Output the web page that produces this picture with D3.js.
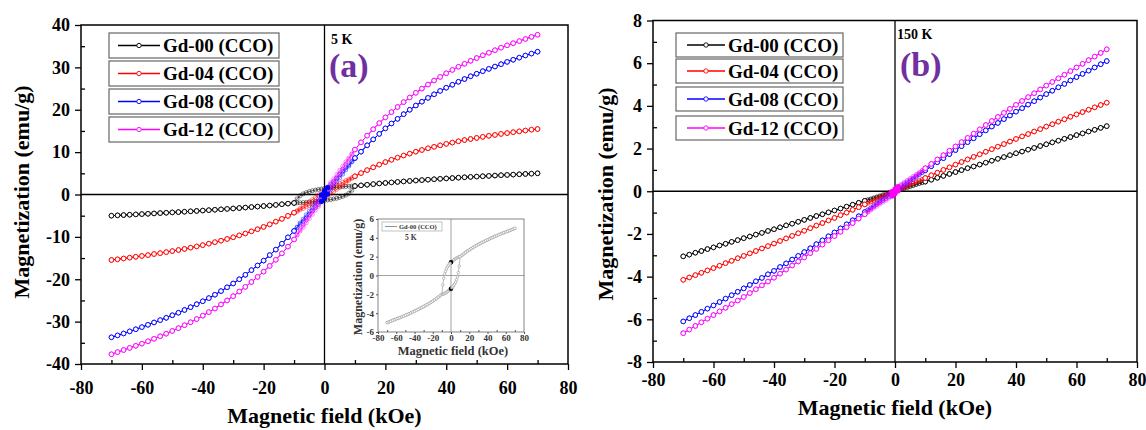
<!DOCTYPE html>
<html>
<head>
<meta charset="utf-8">
<script src="https://cdn.jsdelivr.net/npm/d3@7"></script>
<style>
  body { margin: 0; background: #fff; }
  svg text { font-family: "Liberation Serif", Tinos, "Times New Roman", "DejaVu Serif", serif; font-weight: bold; }
</style>
</head>
<body>
<svg id="chart" width="1146" height="430"></svg>
<script>
// field steps (kOe): outer part is shared by both sweep branches, inner part is the descending branch
var fieldOuter = [10, 12, 14, 16, 18, 20, 22, 24, 26, 28, 30, 32, 34, 36, 38, 40, 42, 44, 46, 48, 50, 52, 54, 56, 58, 60, 62, 64, 66, 68, 70];
var fieldInner = [9, 8, 7, 6, 5, 4, 3, 2, 1, 0, -1, -2, -3, -4, -5, -6, -7, -8, -9];

var seriesNames = ["Gd-00 (CCO)", "Gd-04 (CCO)", "Gd-08 (CCO)", "Gd-12 (CCO)"];
var seriesColors = ["#000000", "#ff0000", "#0000ff", "#ff00ff"];

// 5 K  (emu/g)
var m5kOuter00 = [2.0, 2.15, 2.3, 2.45, 2.6, 2.72, 2.85, 2.97, 3.08, 3.19, 3.3, 3.4, 3.5, 3.6, 3.7, 3.79, 3.88, 3.97, 4.06, 4.15, 4.23, 4.31, 4.39, 4.47, 4.55, 4.62, 4.7, 4.77, 4.85, 4.92, 5.0];
var m5kOuter04 = [4.3, 5.05, 5.75, 6.4, 7.05, 7.65, 8.2, 8.7, 9.2, 9.65, 10.1, 10.5, 10.9, 11.25, 11.6, 11.95, 12.25, 12.55, 12.85, 13.1, 13.35, 13.6, 13.85, 14.05, 14.3, 14.5, 14.7, 14.9, 15.1, 15.3, 15.45];
var m5kOuter08 = [8.6, 10.1, 11.6, 13.0, 14.3, 15.6, 16.75, 17.85, 18.95, 20.0, 21.0, 21.9, 22.8, 23.65, 24.45, 25.2, 25.9, 26.6, 27.25, 27.9, 28.5, 29.1, 29.65, 30.2, 30.75, 31.3, 31.8, 32.3, 32.8, 33.25, 33.7];
var m5kOuter12 = [10.6, 12.3, 13.9, 15.4, 16.85, 18.2, 19.45, 20.65, 21.8, 22.9, 24.0, 25.0, 25.95, 26.9, 27.75, 28.6, 29.4, 30.15, 30.85, 31.55, 32.2, 32.85, 33.45, 34.05, 34.65, 35.2, 35.7, 36.2, 36.7, 37.2, 37.7];
var m5kInner00 = [2.0, 1.95, 1.9, 1.85, 1.8, 1.7, 1.65, 1.55, 1.5, 1.4, 1.3, 1.2, 1.05, 0.9, 0.7, 0.45, 0.15, -0.3, -1.0];
var m5kInner04 = [4.0, 3.6, 3.3, 2.9, 2.6, 2.3, 1.9, 1.6, 1.2, 0.9, 0.4, -0.1, -0.7, -1.2, -1.7, -2.2, -2.7, -3.3, -3.8];
var m5kInner08 = [7.8, 7.0, 6.3, 5.5, 4.7, 3.9, 3.1, 2.4, 1.6, 0.8, -0.1, -1.1, -2.0, -3.0, -3.9, -4.8, -5.8, -6.7, -7.7];
var m5kInner12 = [9.6, 8.6, 7.7, 6.7, 5.7, 4.7, 3.7, 2.8, 1.8, 0.8, -0.3, -1.5, -2.6, -3.8, -4.9, -6.0, -7.2, -8.3, -9.5];

// 150 K  (emu/g)
var m150kOuter00 = [0.45, 0.54, 0.63, 0.72, 0.81, 0.9, 0.99, 1.08, 1.16, 1.25, 1.34, 1.43, 1.52, 1.6, 1.69, 1.78, 1.86, 1.95, 2.03, 2.12, 2.2, 2.29, 2.37, 2.46, 2.54, 2.63, 2.71, 2.8, 2.88, 2.97, 3.05];
var m150kOuter04 = [0.62, 0.75, 0.87, 1.0, 1.12, 1.25, 1.37, 1.49, 1.61, 1.73, 1.85, 1.97, 2.09, 2.21, 2.33, 2.45, 2.57, 2.68, 2.8, 2.91, 3.03, 3.14, 3.26, 3.37, 3.49, 3.6, 3.71, 3.82, 3.93, 4.04, 4.15];
var m150kOuter08 = [0.98, 1.17, 1.36, 1.55, 1.74, 1.93, 2.11, 2.3, 2.48, 2.67, 2.85, 3.03, 3.2, 3.38, 3.55, 3.73, 3.89, 4.06, 4.22, 4.39, 4.55, 4.71, 4.87, 5.03, 5.19, 5.35, 5.5, 5.65, 5.8, 5.95, 6.1];
var m150kOuter12 = [1.08, 1.28, 1.49, 1.69, 1.9, 2.1, 2.3, 2.5, 2.7, 2.9, 3.1, 3.29, 3.48, 3.67, 3.86, 4.05, 4.23, 4.41, 4.59, 4.77, 4.95, 5.12, 5.29, 5.46, 5.63, 5.8, 5.97, 6.14, 6.31, 6.48, 6.65];
var m150kInner00 = [0.41, 0.37, 0.33, 0.28, 0.24, 0.2, 0.16, 0.11, 0.07, 0.03, -0.02, -0.07, -0.12, -0.16, -0.21, -0.26, -0.31, -0.36, -0.4];
var m150kInner04 = [0.56, 0.5, 0.44, 0.38, 0.32, 0.26, 0.2, 0.14, 0.08, 0.03, -0.04, -0.1, -0.17, -0.23, -0.29, -0.36, -0.42, -0.49, -0.55];
var m150kInner08 = [0.89, 0.8, 0.71, 0.62, 0.53, 0.44, 0.35, 0.26, 0.17, 0.08, -0.03, -0.13, -0.24, -0.34, -0.45, -0.56, -0.66, -0.77, -0.87];
var m150kInner12 = [0.98, 0.88, 0.79, 0.7, 0.6, 0.51, 0.42, 0.32, 0.22, 0.1, -0.02, -0.14, -0.25, -0.37, -0.49, -0.6, -0.72, -0.84, -0.96];

var xTicks = [-80, -60, -40, -20, 0, 20, 40, 60, 80];
var xMinor = [-70, -50, -30, -10, 10, 30, 50, 70];
var yTicksA = [-40, -30, -20, -10, 0, 10, 20, 30, 40];
var yMinorA = [-35, -25, -15, -5, 5, 15, 25, 35];
var yTicksB = [-8, -6, -4, -2, 0, 2, 4, 6, 8];
var yMinorB = [-7, -5, -3, -1, 1, 3, 5, 7];
var yTicksInset = [-6, -4, -2, 0, 2, 4, 6];

var serifStack = '"Liberation Serif", Tinos, "Times New Roman", "DejaVu Serif", serif';

// full loop: descending sweep 70 -> -70, ascending sweep is the point reflection
function buildLoop(outer, inner) {
  var desc = [];
  for (var i = fieldOuter.length - 1; i >= 0; i--) desc.push([fieldOuter[i], outer[i]]);
  fieldInner.forEach(function (h, i) { desc.push([h, inner[i]]); });
  for (var j = 0; j < fieldOuter.length; j++) desc.push([-fieldOuter[j], -outer[j]]);
  var asc = desc.map(function (d) { return [-d[0], -d[1]]; });
  return [desc, asc];
}

var svg = d3.select("#chart");

function minus(d) { return d < 0 ? "-" + Math.abs(d) : d; }

function drawPanel(cfg) {
  var x = d3.scaleLinear().domain([-80, 80]).range([cfg.left, cfg.right]);
  var y = d3.scaleLinear().domain(cfg.yDomain).range([cfg.bottom, cfg.top]);
  var g = svg.append("g");

  // zero lines
  g.append("line").attr("x1", x(0)).attr("x2", x(0)).attr("y1", cfg.top).attr("y2", cfg.bottom)
    .attr("stroke", "#000").attr("stroke-width", 1.3);
  g.append("line").attr("x1", cfg.left).attr("x2", cfg.right).attr("y1", y(0)).attr("y2", y(0))
    .attr("stroke", "#000").attr("stroke-width", 1.3);

  var line = d3.line().x(d => x(d[0])).y(d => y(d[1]));

  cfg.loops.forEach(function (lp, k) {
    var col = seriesColors[k];
    var branches = buildLoop(lp[0], lp[1]);
    branches.forEach(function (br) {
      var inner = br.filter(d => Math.abs(d[0]) <= 10);
      var outA = br.filter(d => d[0] >= 10);
      var outB = br.filter(d => d[0] <= -10);
      g.append("path").datum(inner).attr("d", line).attr("fill", "none")
        .attr("stroke", col).attr("stroke-opacity", 0.55).attr("stroke-width", 1.1);
      [outA, outB].forEach(function (seg) {
        g.append("path").datum(seg).attr("d", line).attr("fill", "none")
          .attr("stroke", col).attr("stroke-width", 1);
      });
      g.append("g").selectAll("circle").data(inner).join("circle")
        .attr("cx", d => x(d[0])).attr("cy", d => y(d[1])).attr("r", 2)
        .attr("fill", "none").attr("stroke", col).attr("stroke-opacity", 0.6).attr("stroke-width", 0.8);
      g.append("g").selectAll("circle").data(outA.concat(outB)).join("circle")
        .attr("cx", d => x(d[0])).attr("cy", d => y(d[1])).attr("r", 2.3)
        .attr("fill", "#fff").attr("stroke", col).attr("stroke-width", 0.9);
    });
  });

  // solid points around zero field
  var fk = cfg.filledSeries;
  buildLoop(cfg.loops[fk][0], cfg.loops[fk][1]).forEach(function (br) {
    g.append("g").selectAll("circle").data(br.filter(d => Math.abs(d[0]) <= 1)).join("circle")
      .attr("cx", d => x(d[0])).attr("cy", d => y(d[1])).attr("r", 2.6)
      .attr("fill", seriesColors[fk]);
  });

  // frame
  g.append("rect").attr("x", cfg.left).attr("y", cfg.top)
    .attr("width", cfg.right - cfg.left).attr("height", cfg.bottom - cfg.top)
    .attr("fill", "none").attr("stroke", "#000").attr("stroke-width", 1.5);

  // axes: major ticks outward with labels, minor ticks inward
  g.append("g").attr("transform", "translate(0," + cfg.bottom + ")")
    .call(d3.axisBottom(x).tickValues(xTicks).tickSize(6).tickPadding(cfg.xPad).tickFormat(minus));
  g.append("g").attr("transform", "translate(0," + cfg.bottom + ")")
    .call(d3.axisTop(x).tickValues(xMinor).tickSize(4).tickFormat(""));
  g.append("g").attr("transform", "translate(" + cfg.left + ",0)")
    .call(d3.axisLeft(y).tickValues(cfg.yTicks).tickSize(6).tickPadding(5).tickFormat(minus));
  g.append("g").attr("transform", "translate(" + cfg.left + ",0)")
    .call(d3.axisRight(y).tickValues(cfg.yMinor).tickSize(4).tickFormat(""));
  g.selectAll(".domain").remove();
  g.selectAll(".tick line").attr("stroke", "#000").attr("stroke-width", 1.3);
  g.selectAll("g").attr("font-family", null);
  g.selectAll(".tick text").attr("fill", "#000").style("font-size", "18px")
    .style("font-family", serifStack).style("font-weight", "bold");

  // axis titles
  g.append("text").attr("x", (cfg.left + cfg.right) / 2).attr("y", cfg.xTitleY)
    .attr("text-anchor", "middle").style("font-size", "22px").text("Magnetic field (kOe)");
  g.append("text").attr("transform", "translate(" + cfg.yTitleX + "," + cfg.yTitleY + ") rotate(-90)")
    .attr("text-anchor", "middle").attr("dy", "0.35em").style("font-size", "22px").text("Magnetization (emu/g)");

  // temperature and panel letter
  g.append("text").attr("x", cfg.tempX).attr("y", cfg.tempY).style("font-size", "14px").text(cfg.temp);
  g.append("text").attr("x", cfg.letterX).attr("y", cfg.letterY).attr("fill", "#70309f")
    .style("font-size", "34px").text(cfg.letter);

  // legend
  seriesNames.forEach(function (name, k) {
    var ly = cfg.legTop[k];
    var lg = g.append("g");
    lg.append("rect").attr("x", cfg.legX).attr("y", ly).attr("width", cfg.legW).attr("height", cfg.legH)
      .attr("fill", "#fff").attr("stroke", "#666").attr("stroke-width", 1.2);
    lg.append("line").attr("x1", cfg.legX + cfg.legLine[0]).attr("x2", cfg.legX + cfg.legLine[1])
      .attr("y1", ly + cfg.legH / 2).attr("y2", ly + cfg.legH / 2)
      .attr("stroke", seriesColors[k]).attr("stroke-width", 1.6);
    lg.append("circle").attr("cx", cfg.legX + (cfg.legLine[0] + cfg.legLine[1]) / 2).attr("cy", ly + cfg.legH / 2)
      .attr("r", 2.2).attr("fill", "#fff").attr("stroke", seriesColors[k]).attr("stroke-width", 0.9);
    lg.append("text").attr("x", cfg.legX + cfg.legText).attr("y", ly + cfg.legH / 2).attr("dy", "0.35em")
      .style("font-size", "19px").text(name);
  });
  return g;
}

drawPanel({
  left: 81, right: 568, top: 25, bottom: 364, yDomain: [-40, 40],
  yTicks: yTicksA, yMinor: yMinorA, xPad: 11,
  xTitleY: 423, yTitleX: 21, yTitleY: 192,
  temp: "5 K", tempX: 331, tempY: 44, letter: "(a)", letterX: 329, letterY: 77,
  legX: 109, legW: 170, legH: 25, legTop: [33, 61, 89, 117], legLine: [9, 51], legText: 54,
  filledSeries: 2,
  loops: [[m5kOuter00, m5kInner00], [m5kOuter04, m5kInner04], [m5kOuter08, m5kInner08], [m5kOuter12, m5kInner12]]
});

drawPanel({
  left: 653, right: 1137, top: 20.5, bottom: 362, yDomain: [-8, 8],
  yTicks: yTicksB, yMinor: yMinorB, xPad: 5,
  xTitleY: 415, yTitleX: 605, yTitleY: 194,
  temp: "150 K", tempX: 897, tempY: 39, letter: "(b)", letterX: 900, letterY: 76,
  legX: 676, legW: 167, legH: 24, legTop: [33, 59, 87, 116], legLine: [11, 49], legText: 52,
  filledSeries: 3,
  loops: [[m150kOuter00, m150kInner00], [m150kOuter04, m150kInner04], [m150kOuter08, m150kInner08], [m150kOuter12, m150kInner12]]
});

// inset: Gd-00 loop at 5 K
(function () {
  var L = 378, R = 524, T = 219, B = 332;
  var x = d3.scaleLinear().domain([-80, 80]).range([L, R]);
  var y = d3.scaleLinear().domain([-6, 6]).range([B, T]);
  var g = svg.append("g");
  var grey = "#8a8a8a";
  g.append("line").attr("x1", x(0)).attr("x2", x(0)).attr("y1", T).attr("y2", B).attr("stroke", grey).attr("stroke-width", 0.8);
  g.append("line").attr("x1", L).attr("x2", R).attr("y1", y(0)).attr("y2", y(0)).attr("stroke", grey).attr("stroke-width", 0.8);
  var line = d3.line().x(d => x(d[0])).y(d => y(d[1]));
  buildLoop(m5kOuter00, m5kInner00).forEach(function (br) {
    g.append("path").datum(br).attr("d", line).attr("fill", "none").attr("stroke", "#aaa").attr("stroke-width", 0.8);
    g.append("g").selectAll("circle").data(br).join("circle")
      .attr("cx", d => x(d[0])).attr("cy", d => y(d[1])).attr("r", 1.3)
      .attr("fill", "#fff").attr("stroke", d => d[0] === 0 ? "#000" : "#999")
      .attr("stroke-width", d => d[0] === 0 ? 2 : 0.6);
  });
  g.append("rect").attr("x", L).attr("y", T).attr("width", R - L).attr("height", B - T)
    .attr("fill", "none").attr("stroke", "#777").attr("stroke-width", 0.9);
  g.append("g").attr("transform", "translate(0," + B + ")")
    .call(d3.axisBottom(x).tickValues(xTicks).tickSize(2).tickPadding(1).tickFormat(minus));
  g.append("g").attr("transform", "translate(0," + B + ")")
    .call(d3.axisTop(x).tickValues(xMinor).tickSize(2).tickFormat(""));
  g.append("g").attr("transform", "translate(" + L + ",0)")
    .call(d3.axisLeft(y).tickValues(yTicksInset).tickSize(2).tickPadding(2).tickFormat(minus));
  g.selectAll(".domain").remove();
  g.selectAll("g").attr("font-family", null);
  g.selectAll(".tick line").attr("stroke", "#555");
  g.selectAll(".tick text").attr("fill", "#333").style("font-size", "9px")
    .style("font-family", serifStack).style("font-weight", "bold");
  g.append("text").attr("x", (L + R) / 2 + 2).attr("y", 355).attr("text-anchor", "middle")
    .attr("fill", "#333").style("font-size", "12.5px").text("Magnetic field (kOe)");
  g.append("text").attr("transform", "translate(358,277) rotate(-90)").attr("text-anchor", "middle")
    .attr("dy", "0.35em").attr("fill", "#333").style("font-size", "12px").text("Magnetization (emu/g)");
  g.append("rect").attr("x", 382).attr("y", 222).attr("width", 60).attr("height", 9)
    .attr("fill", "#fff").attr("stroke", "#999").attr("stroke-width", 0.6);
  g.append("line").attr("x1", 385).attr("x2", 397).attr("y1", 226.5).attr("y2", 226.5).attr("stroke", "#777").attr("stroke-width", 0.8);
  g.append("text").attr("x", 399).attr("y", 226.5).attr("dy", "0.35em").attr("fill", "#333")
    .style("font-size", "6.5px").text(seriesNames[0]);
  g.append("text").attr("x", 405).attr("y", 240).attr("fill", "#333").style("font-size", "7.5px").text("5 K");
})();
</script>
</body>
</html>
